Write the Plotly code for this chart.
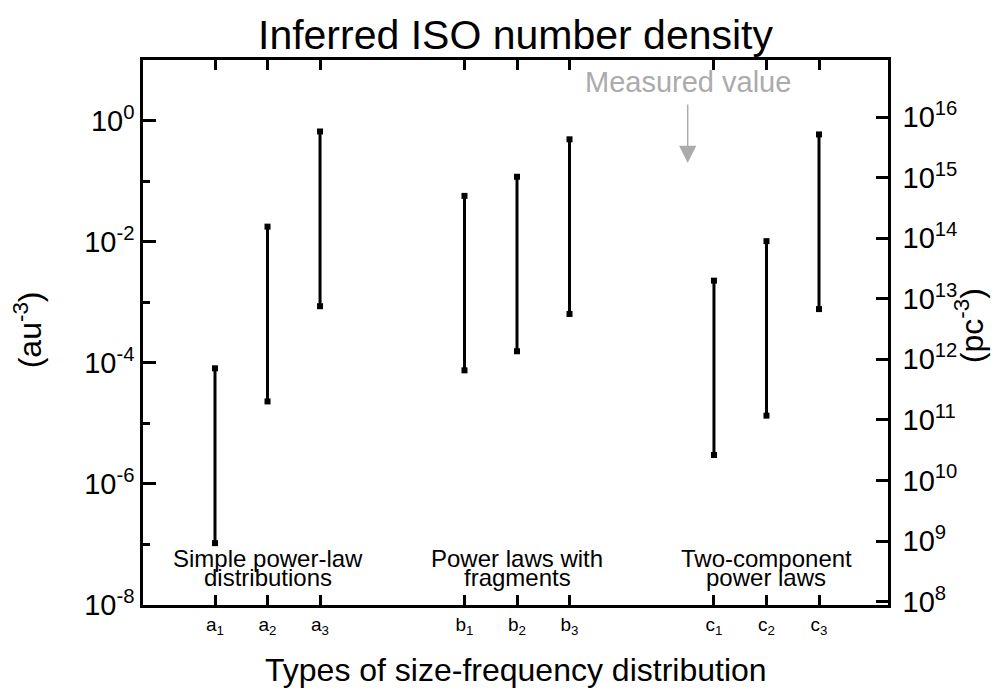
import math
import plotly.graph_objects as go

# ---------------- data ----------------
categories = ["a1", "a2", "a3", "b1", "b2", "b3", "c1", "c2", "c3"]
tick_labels = ["a<sub>1</sub>", "a<sub>2</sub>", "a<sub>3</sub>",
               "b<sub>1</sub>", "b<sub>2</sub>", "b<sub>3</sub>",
               "c<sub>1</sub>", "c<sub>2</sub>", "c<sub>3</sub>"]
group_of = [0, 0, 0, 1, 1, 1, 2, 2, 2]
index_in_group = [0, 1, 2, 0, 1, 2, 0, 1, 2]
low_au = [1.05e-7, 2.3e-5, 8.6e-4, 7.5e-5, 1.55e-4, 6.4e-4, 3.0e-6, 1.34e-5, 7.7e-4]
high_au = [8.1e-5, 1.77e-2, 0.66, 5.7e-2, 0.118, 0.49, 2.27e-3, 1.02e-2, 0.59]
group_line1 = ["Simple power-law", "Power laws with", "Two-component"]
group_line2 = ["distributions", "fragments", "power laws"]
band_low_au = 0.058
band_high_au = 0.172
measured_label = "Measured value"
arrow_from_au = 1.95
arrow_to_au = 0.20
left_tick_exp = [0, -2, -4, -6, -8]
left_minor_exp = [-1, -3, -5, -7]
right_tick_exp = [8, 9, 10, 11, 12, 13, 14, 15, 16]

# ---------------- layout constants ----------------
GROUP_STEP = 4.75
AU_PER_PC = 206264.806
LOG_CONV = 3 * math.log10(AU_PER_PC)  # au^-3 -> pc^-3
YMIN, YMAX = -8, 1
FONT = "Liberation Sans, Arial, Helvetica, sans-serif"

xpos = [1 + g * GROUP_STEP + i for g, i in zip(group_of, index_in_group)]
group_centers = [1 + g * GROUP_STEP + 1 for g in range(3)]
arrow_x = 1 + 2 * GROUP_STEP - 0.5

# bar segments (separated by None)
bx, by = [], []
for x, lo, hi in zip(xpos, low_au, high_au):
    bx += [x, x, None]
    by += [lo, hi, None]

fig = go.Figure()
fig.add_trace(go.Scatter(
    x=bx, y=by, mode="lines+markers",
    line=dict(color="black", width=3),
    marker=dict(symbol="square", size=6, color="black"),
    hoverinfo="skip", showlegend=False, connectgaps=False,
))
# invisible trace on right axis so that it is drawn
fig.add_trace(go.Scatter(
    x=[xpos[0]], y=[10 ** (YMIN + LOG_CONV + 1)], yaxis="y2",
    mode="markers", marker=dict(opacity=0), showlegend=False, hoverinfo="skip",
))

fig.add_shape(type="rect", xref="paper", x0=0, x1=1, yref="y",
              y0=math.log10(band_low_au), y1=math.log10(band_high_au),
              fillcolor="#c8c8c8", line=dict(width=0), layer="below")

gray = "#ababab"
fig.add_annotation(x=arrow_x, y=math.log10(arrow_to_au), ax=arrow_x,
                   ay=math.log10(arrow_from_au), axref="x", ayref="y",
                   xref="x", yref="y", text="", showarrow=True,
                   arrowhead=2, arrowsize=2.3, arrowwidth=1.5, arrowcolor=gray)
fig.add_annotation(x=arrow_x, y=0.637, xref="x", yref="y", text=measured_label,
                   xanchor="center", yanchor="middle",
                   showarrow=False, font=dict(family=FONT, size=29, color=gray))

for xc, l1, l2 in zip(group_centers, group_line1, group_line2):
    fig.add_annotation(x=xc, y=0.086, xref="x", yref="paper", text=l1,
                       xanchor="center", yanchor="middle",
                       showarrow=False, font=dict(family=FONT, size=24, color="black"))
    fig.add_annotation(x=xc, y=0.051, xref="x", yref="paper", text=l2,
                       xanchor="center", yanchor="middle",
                       showarrow=False, font=dict(family=FONT, size=24, color="black"))

fig.add_annotation(x=-0.155, y=0.505, xref="paper", yref="paper",
                   xanchor="center", yanchor="middle",
                   text="(au<sup>-3</sup>)", textangle=-90, showarrow=False,
                   font=dict(family=FONT, size=32, color="black"))
fig.add_annotation(x=1.109, y=0.512, xref="paper", yref="paper",
                   xanchor="center", yanchor="middle",
                   text="(pc<sup>-3</sup>)", textangle=-90, showarrow=False,
                   font=dict(family=FONT, size=32, color="black"))
fig.add_annotation(x=0.5, y=-0.119, xref="paper", yref="paper",
                   xanchor="center", yanchor="middle",
                   text="Types of size-frequency distribution", showarrow=False,
                   font=dict(family=FONT, size=32, color="black"))

u = 52.52  # px per x unit
xr0 = 1 - 72 / u
xr1 = xpos[-1] + 69 / u

fig.update_layout(
    width=1006, height=697,
    margin=dict(l=135, r=126, t=52, b=100),
    paper_bgcolor="white", plot_bgcolor="white",
    font=dict(family=FONT, color="black"),
    title=dict(text="Inferred ISO number density", x=0.5, xref="paper",
               y=0.962, yref="container", xanchor="center", yanchor="middle",
               font=dict(family=FONT, size=41, color="black")),
    xaxis=dict(range=[xr0, xr1], tickvals=xpos, ticktext=tick_labels,
               ticks="inside", ticklen=10, tickwidth=2.5, tickcolor="black",
               showline=True, linewidth=2.5, linecolor="black", mirror="ticks",
               showgrid=False, zeroline=False, automargin=False,
               tickfont=dict(family=FONT, size=19, color="black")),
    yaxis=dict(type="log", range=[YMIN, YMAX],
               tickvals=[10.0 ** e for e in left_tick_exp],
               ticktext=["10<sup>%d</sup>" % e for e in left_tick_exp],
               ticks="inside", ticklen=13, tickwidth=2.5, tickcolor="black",
               minor=dict(tickvals=[10.0 ** e for e in left_minor_exp],
                          ticks="inside", ticklen=7, tickwidth=2.5, tickcolor="black",
                          showgrid=False),
               showline=True, linewidth=2.5, linecolor="black",
               showgrid=False, zeroline=False, automargin=False,
               tickfont=dict(family=FONT, size=29, color="black")),
    yaxis2=dict(type="log", overlaying="y", side="right",
                range=[YMIN + LOG_CONV, YMAX + LOG_CONV],
                tickvals=[10.0 ** e for e in right_tick_exp],
                ticktext=["10<sup>%d</sup>" % e for e in right_tick_exp],
                ticks="inside", ticklen=12, tickwidth=2.5, tickcolor="black",
                showline=True, linewidth=2.5, linecolor="black",
                showgrid=False, zeroline=False, automargin=False,
                ticklabelstandoff=6,
                tickfont=dict(family=FONT, size=29, color="black")),
)

fig.write_html("out.html")
